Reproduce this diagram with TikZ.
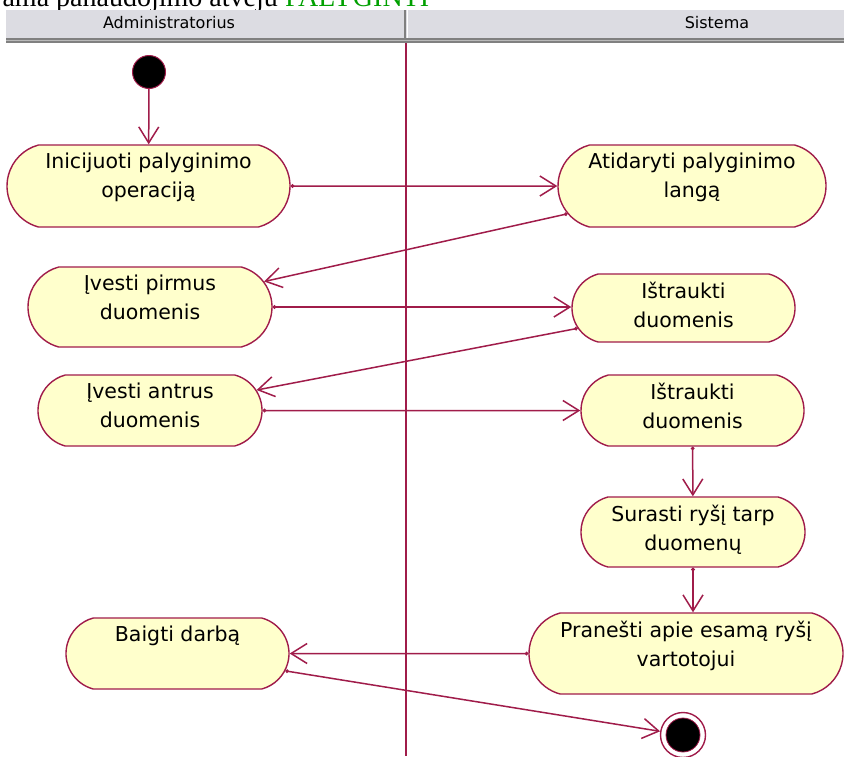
\documentclass[tikz,border=0pt]{standalone}
\usepackage{fontspec}
\setmainfont{Liberation Serif}
\newfontfamily\uifont{DejaVu Sans}
\usetikzlibrary{shapes.misc,arrows.meta}
\definecolor{flowline}{RGB}{160,28,74}
\definecolor{actfill}{RGB}{255,255,204}
\definecolor{headgray}{RGB}{220,220,226}
\definecolor{headedge}{RGB}{128,128,128}
\definecolor{titlegreen}{RGB}{0,160,0}
\begin{document}
\begin{tikzpicture}[x=1pt,y=-1pt,
  act/.style={rounded rectangle, rounded rectangle arc length=150, draw=flowline,
    fill=actfill, line width=1.4pt, inner sep=0pt},
  lbl/.style={font=\uifont\fontsize{20.5}{29}\selectfont, align=center,
    inner sep=0pt, anchor=north, yshift=-8.5pt},
  flowplain/.style={draw=flowline, line width=1.5pt,
    -{Straight Barb[length=16pt,width=20pt]}},
  flow/.style={draw=flowline, line width=1.5pt,
    {Circle[length=3.5pt]}-{Straight Barb[length=16pt,width=20pt]}},
  lanehead/.style={font=\uifont\fontsize{16}{18}\selectfont, anchor=base, inner sep=0pt},
]
\useasboundingbox (0,0) rectangle (844,756);
\clip (0,0) rectangle (844,756);
\fill[white] (0,0) rectangle (844,756);

% caption line running above the diagram
\node[font=\fontsize{28}{32}\selectfont, anchor=base east, inner sep=0pt] (captxt) at (278,6) {diagrama panaudojimo atveju};
\node[font=\fontsize{28}{32}\selectfont, anchor=base west, inner sep=0pt, text=titlegreen] (capname) at (285,6) {PALYGINTI};

% swimlane header
\fill[headgray] (6,10) rectangle (844,38);
\fill[headedge] (6,38) rectangle (844,43);
\draw[gray!55, line width=1pt] (6,40.5) -- (844,40.5);
\draw[headedge, line width=1.5pt] (405,10) -- (405,38);
\draw[white, line width=1pt] (407.5,10) -- (407.5,38);
\node[lanehead] (admin) at (169,28) {Administratorius};
\node[lanehead] (sistema) at (717,28) {Sistema};

% lane divider
\draw[flowline, line width=1.5pt] (406,43) -- (406,756);

% initial and final states
\node[circle, fill=black, draw=flowline, line width=1pt, minimum size=33pt, inner sep=0pt] (start) at (149,72) {};
\node[circle, draw=flowline, fill=white, line width=1.4pt, minimum size=45pt, inner sep=0pt] (finish) at (683,735) {};
\node[circle, fill=black, draw=flowline, line width=0.8pt, minimum size=34pt, inner sep=0pt] (finishdot) at (finish.center) {};

% activities
\node[act, minimum width=283pt, minimum height=82pt,
  label={[lbl]north:{Inicijuoti palyginimo\\operaciją}}] (inic) at (148.5,186) {};
\node[act, minimum width=268pt, minimum height=82pt,
  label={[lbl]north:{Atidaryti palyginimo\\langą}}] (atid) at (692,186) {};
\node[act, minimum width=244pt, minimum height=80pt,
  label={[lbl]north:{Įvesti pirmus\\duomenis}}] (pirmus) at (150,307) {};
\node[act, minimum width=223pt, minimum height=68pt,
  label={[lbl]north:{Ištraukti\\duomenis}}] (istr1) at (683.5,308) {};
\node[act, minimum width=224pt, minimum height=71pt,
  label={[lbl]north:{Įvesti antrus\\duomenis}}] (antrus) at (150,410.5) {};
\node[act, minimum width=223pt, minimum height=71pt,
  label={[lbl]north:{Ištraukti\\duomenis}}] (istr2) at (692.5,410.5) {};
\node[act, minimum width=224pt, minimum height=70pt,
  label={[lbl]north:{Surasti ryšį tarp\\duomenų}}] (surasti) at (693,532) {};
\node[act, minimum width=314pt, minimum height=81pt,
  label={[lbl]north:{Pranešti apie esamą ryšį\\vartotojui}}] (pranesti) at (686,653.5) {};
\node[act, minimum width=223pt, minimum height=71pt,
  label={[lbl]north:{Baigti darbą}}] (baigti) at (177.5,653.5) {};

% control flow
\draw[flowplain] (start) -- (inic);
\draw[flow] (inic) -- (atid);
\draw[flow] (atid) -- (pirmus);
\draw[flow] (pirmus.east) -- (pirmus.east -| istr1.west);
\draw[flow] (istr1) -- (antrus);
\draw[flow] (antrus) -- (istr2);
\draw[flow] (istr2) -- (surasti);
\draw[flow] (surasti.south) -- (surasti.south |- pranesti.north);
\draw[flow] (pranesti) -- (baigti);
\draw[flow] (baigti) -- (finish);
\end{tikzpicture}
\end{document}
